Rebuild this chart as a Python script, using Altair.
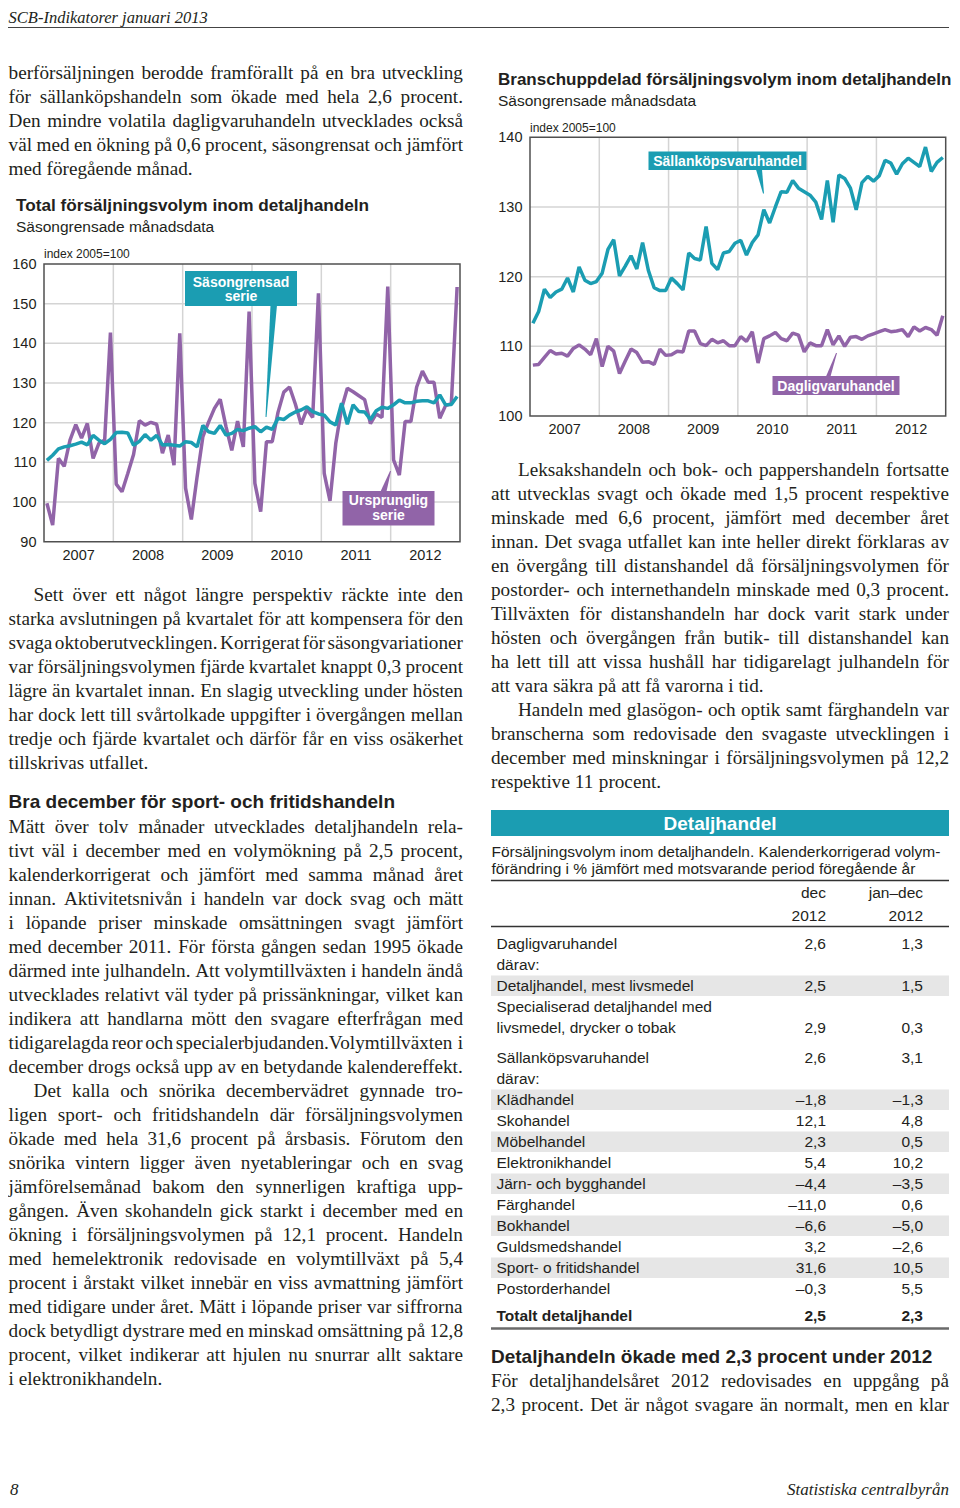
import altair as alt
import pandas as pd

OFF = 8
TEAL = "#1b9db2"
PURPLE = "#9164a8"
INK = "#231f20"
GRID = "#d4d4d4"
FRAME = "#505050"
SHADE = "#e6e6e6"
SANS = "Liberation Sans"
SERIF = "Liberation Serif"

# ---------------- data ----------------
years = ["2007", "2008", "2009", "2010", "2011", "2012"]

total_original = [
    99.7, 94.2, 111.0, 109.0, 115.6, 119.5, 116.1, 119.8, 111.0, 114.8, 115.6, 142.7,
    104.5, 102.6, 107.2, 112.0, 120.5, 119.4, 120.1, 119.6, 112.3, 116.9, 109.3, 142.5,
    103.5, 95.6, 106.4, 116.5, 120.2, 123.6, 125.9, 119.0, 113.0, 120.4, 113.9, 148.0,
    104.7, 97.6, 115.2, 115.2, 122.6, 127.7, 129.0, 124.7, 119.6, 123.4, 121.3, 152.6,
    107.2, 100.3, 114.8, 123.6, 128.7, 127.8, 126.8, 125.8, 119.8, 122.2, 121.3, 154.3,
    110.6, 106.8, 120.3, 120.3, 129.0, 133.0, 130.2, 130.2, 121.1, 124.3, 124.8, 154.2,
]
total_seasonal = [
    110.5, 111.8, 113.4, 113.9, 114.2, 114.6, 115.1, 114.4, 116.8, 115.6, 114.7, 115.8,
    117.5, 117.6, 117.4, 114.3, 115.3, 117.0, 115.6, 116.8, 114.4, 114.5, 114.3, 114.1,
    115.2, 115.0, 113.9, 119.3, 117.7, 117.3, 119.3, 116.9, 117.3, 118.3, 118.0, 118.6,
    119.0, 117.7, 118.9, 118.3, 121.1, 120.8, 121.9, 122.7, 123.2, 124.0, 122.8, 122.2,
    121.9, 120.2, 119.4, 124.9, 119.6, 124.5, 122.8, 122.7, 120.8, 123.0, 123.9, 123.6,
    124.5, 125.7, 125.0, 125.0, 125.4, 125.5, 125.5, 125.0, 127.0, 124.5, 124.6, 126.6,
]
sallankop = [
    113.3, 115.0, 118.2, 117.0, 117.8, 118.2, 119.8, 117.8, 121.4, 119.5, 119.0, 119.3,
    120.5, 123.9, 125.3, 120.1, 121.5, 123.0, 121.1, 124.9, 120.9, 118.4, 118.0, 118.0,
    119.8, 119.0, 118.1, 123.4, 122.6, 122.4, 127.2, 121.9, 121.0, 123.4, 123.6, 124.8,
    125.2, 123.1, 124.9, 126.0, 129.6, 127.7, 130.0, 132.2, 132.1, 133.8, 132.7, 132.2,
    131.7, 130.7, 128.2, 133.8, 127.8, 134.6, 134.1, 132.7, 129.6, 133.5, 134.4, 133.7,
    134.5, 136.7, 136.3, 134.7, 136.2, 137.0, 136.4, 135.8, 138.6, 135.1, 136.4, 137.1,
]
dagligvaru = [
    107.3, 107.4, 108.4, 109.4, 108.9, 109.0, 108.6, 109.7, 110.2, 109.6, 108.8, 111.1,
    107.1, 110.0, 109.3, 106.1, 107.9, 109.6, 109.1, 107.7, 107.8, 107.4, 109.6, 108.7,
    108.8, 109.3, 109.2, 112.2, 112.2, 110.4, 110.1, 111.0, 110.5, 110.8, 110.1, 110.1,
    111.4, 110.7, 112.1, 107.6, 111.1, 111.5, 112.0, 111.1, 110.8, 111.9, 111.6, 109.2,
    110.5, 110.1, 110.1, 112.4, 110.2, 111.5, 110.0, 111.3, 111.4, 111.0, 111.5, 111.8,
    112.1, 112.4, 112.1, 112.2, 112.4, 111.4, 112.8, 112.2, 112.7, 112.4, 111.6, 114.4,
]
ticks_total = [90, 100, 110, 120, 130, 140, 150, 160]
ticks_branch = [100, 110, 120, 130, 140]

title_total = "Total försäljningsvolym inom detaljhandeln"
title_branch = "Branschuppdelad försäljningsvolym inom detaljhandeln"
subtitle = "Säsongrensade månadsdata"
unit_text = "index 2005=100"
lab_sa = ["Säsongrensad", "serie"]
lab_orig = ["Ursprunglig", "serie"]
lab_sallan = "Sällanköpsvaruhandel"
lab_daglig = "Dagligvaruhandel"

page_header = "SCB-Indikatorer januari 2013"
page_no = "8"
publisher = "Statistiska centralbyrån"

left_p0 = [
    "berförsäljningen berodde framförallt på en bra utveckling",
    "för sällanköpshandeln som ökade med hela 2,6 procent.",
    "Den mindre volatila dagligvaruhandeln utvecklades också",
    "väl med en ökning på 0,6 procent, säsongrensat och jämfört",
    "med föregående månad.",
]
left_p1 = [
    "Sett över ett något längre perspektiv räckte inte den",
    "starka avslutningen på kvartalet för att kompensera för den",
    "svaga oktoberutvecklingen. Korrigerat för säsongvariationer",
    "var försäljningsvolymen fjärde kvartalet knappt 0,3 procent",
    "lägre än kvartalet innan. En slagig utveckling under hösten",
    "har dock lett till svårtolkade uppgifter i övergången mellan",
    "tredje och fjärde kvartalet och därför får en viss osäkerhet",
    "tillskrivas utfallet.",
]
heading_left = "Bra december för sport- och fritidshandeln"
left_p2 = [
    "Mätt över tolv månader utvecklades detaljhandeln rela-",
    "tivt väl i december med en volymökning på 2,5 procent,",
    "kalenderkorrigerat och jämfört med samma månad året",
    "innan. Aktivitetsnivån i handeln var dock svag och mätt",
    "i löpande priser minskade omsättningen svagt jämfört",
    "med december 2011. För första gången sedan 1995 ökade",
    "därmed inte julhandeln. Att volymtillväxten i handeln ändå",
    "utvecklades relativt väl tyder på prissänkningar, vilket kan",
    "indikera att handlarna mött den svagare efterfrågan med",
    "tidigarelagda reor och specialerbjudanden.Volymtillväxten i",
    "december drogs också upp av en betydande kalendereffekt.",
]
left_p3 = [
    "Det kalla och snörika decembervädret gynnade tro-",
    "ligen sport- och fritidshandeln där försäljningsvolymen",
    "ökade med hela 31,6 procent på årsbasis. Förutom den",
    "snörika vintern ligger även nyetableringar och en svag",
    "jämförelsemånad bakom den synnerligen kraftiga upp-",
    "gången. Även skohandeln gick starkt i december med en",
    "ökning i försäljningsvolymen på 12,1 procent. Handeln",
    "med hemelektronik redovisade en volymtillväxt på 5,4",
    "procent i årstakt vilket innebär en viss avmattning jämfört",
    "med tidigare under året. Mätt i löpande priser var siffrorna",
    "dock betydligt dystrare med en minskad omsättning på 12,8",
    "procent, vilket indikerar att hjulen nu snurrar allt saktare",
    "i elektronikhandeln.",
]
right_p1 = [
    "Leksakshandeln och bok- och pappershandeln fortsatte",
    "att utvecklas svagt och ökade med 1,5 procent respektive",
    "minskade med 6,6 procent, jämfört med december året",
    "innan. Det svaga utfallet kan inte heller direkt förklaras av",
    "en övergång till distanshandel då försäljningsvolymen för",
    "postorder- och internethandeln minskade med 0,3 procent.",
    "Tillväxten för distanshandeln har dock varit stark under",
    "hösten och övergången från butik- till distanshandel kan",
    "ha lett till att vissa hushåll har tidigarelagt julhandeln för",
    "att vara säkra på att få varorna i tid.",
]
right_p2 = [
    "Handeln med glasögon- och optik samt färghandeln var",
    "branscherna som redovisade den svagaste utvecklingen i",
    "december med minskningar i försäljningsvolymen på 12,2",
    "respektive 11 procent.",
]
heading_right = "Detaljhandeln ökade med 2,3 procent under 2012"
right_p3 = [
    "För detaljhandelsåret 2012 redovisades en uppgång på",
    "2,3 procent. Det är något svagare än normalt, men en klar",
]

table_title = "Detaljhandel"
table_caption = [
    "Försäljningsvolym inom detaljhandeln. Kalenderkorrigerad volym-",
    "förändring i % jämfört med motsvarande period föregående år",
]
table_head_dec = ["dec", "2012"]
table_head_jd = ["jan–dec", "2012"]
table_labels = [
    "Dagligvaruhandel", "därav:", "Detaljhandel, mest livsmedel",
    "Specialiserad detaljhandel med", "livsmedel, drycker o tobak",
    "Sällanköpsvaruhandel", "därav:", "Klädhandel", "Skohandel", "Möbelhandel",
    "Elektronikhandel", "Järn- och bygghandel", "Färghandel", "Bokhandel",
    "Guldsmedshandel", "Sport- o fritidshandel", "Postorderhandel", "Totalt detaljhandel",
]
table_dec = ["2,6", "", "2,5", "", "2,9", "2,6", "", "–1,8", "12,1", "2,3", "5,4",
             "–4,4", "–11,0", "–6,6", "3,2", "31,6", "–0,3", "2,5"]
table_jd = ["1,3", "", "1,5", "", "0,3", "3,1", "", "–1,3", "4,8", "0,5", "10,2",
            "–3,5", "0,6", "–5,0", "–2,6", "10,5", "5,5", "2,3"]
table_shaded = [2, 7, 9, 11, 13, 15]

# ---------------- helpers ----------------
TNR = {" ": 250, ",": 250, ".": 250, "-": 333, "–": 500, ":": 278, ";": 278,
       "0": 500, "1": 500, "2": 500, "3": 500, "4": 500, "5": 500, "6": 500,
       "7": 500, "8": 500, "9": 500, "%": 833,
       "a": 444, "b": 500, "c": 444, "d": 500, "e": 444, "f": 333, "g": 500,
       "h": 500, "i": 278, "j": 278, "k": 500, "l": 278, "m": 778, "n": 500,
       "o": 500, "p": 500, "q": 500, "r": 333, "s": 389, "t": 278, "u": 500,
       "v": 500, "w": 722, "x": 500, "y": 500, "z": 444, "å": 444, "ä": 444,
       "ö": 500, "é": 444,
       "A": 722, "B": 667, "C": 667, "D": 722, "E": 611, "F": 556, "G": 722,
       "H": 722, "I": 333, "J": 389, "K": 722, "L": 611, "M": 889, "N": 722,
       "O": 722, "P": 556, "Q": 722, "R": 667, "S": 556, "T": 611, "U": 722,
       "V": 722, "W": 944, "X": 722, "Y": 722, "Z": 611, "Å": 722, "Ä": 722,
       "Ö": 722}


def em(s):
    return sum(TNR.get(ch, 500) for ch in s) / 1000.0


LEFT = 8.6   # page x where the left column can start (the page margin is 8px)
# paragraphs: lines, left, right, first baseline, indent, continues
paras = [
    (left_p0, LEFT, 463, 79, 0, False),
    (left_p1, LEFT, 463, 601, 25, False),
    (left_p2, LEFT, 463, 833, 0, False),
    (left_p3, LEFT, 463, 1097, 25, False),
    (right_p1, 491, 949, 476, 27, False),
    (right_p2, 491, 949, 716, 27, False),
    (right_p3, 491, 949, 1387, 0, True),
]

need = []
for lines, lft, rgt, b0, ind, cont in paras:
    for k, line in enumerate(lines):
        if k == len(lines) - 1 and not cont:
            continue
        words = line.split(" ")
        avail = rgt - lft - (ind if k == 0 else 0)
        need.append(avail / (sum(em(w) for w in words) + 0.13 * (len(words) - 1)))
FS = min(19.6, min(need))

word_rows = []
for lines, lft, rgt, b0, ind, cont in paras:
    for k, line in enumerate(lines):
        y = b0 + 24 * k
        x0 = lft + (ind if k == 0 else 0)
        words = line.split(" ")
        ws = [em(w) * FS for w in words]
        last = (k == len(lines) - 1) and not cont
        if last or len(words) == 1:
            gap = 0.25 * FS
        else:
            gap = (rgt - x0 - sum(ws)) / (len(words) - 1)
        x = x0
        for w, wd in zip(words, ws):
            word_rows.append(dict(t=w, x=x - OFF, y=y - OFF, s=FS, c=INK))
            x += wd + gap


def text_layer(rows, font, weight="normal", style="normal", align="left", baseline="alphabetic"):
    df = pd.DataFrame(rows)
    return alt.Chart(df).mark_text(font=font, fontWeight=weight, fontStyle=style,
                                   align=align, baseline=baseline).encode(
        x=alt.X("x:Q", scale=None, axis=None),
        y=alt.Y("y:Q", scale=None, axis=None),
        text="t:N",
        size=alt.Size("s:Q", scale=None, legend=None),
        color=alt.Color("c:N", scale=None, legend=None),
    )


def T(t, x, y, s, c=INK):
    return dict(t=t, x=x - OFF, y=y - OFF, s=s, c=c)


def series_df(vals):
    return pd.DataFrame({"m": [i + 0.5 for i in range(len(vals))], "v": vals})


def panel(series, x0, x1, ytop, ybot, lo, hi, ticks, lab_right, year_base):
    xs = alt.Scale(domain=[0, 72], range=[x0 - OFF, x1 - OFF], nice=False, zero=False)
    ys = alt.Scale(domain=[lo, hi], range=[ybot - OFF, ytop - OFF], nice=False, zero=False)
    L = []
    gv = pd.DataFrame({"m": [12 * k for k in range(1, 6)]})
    L.append(alt.Chart(gv).mark_rule(color=GRID, strokeWidth=1.5).encode(
        x=alt.X("m:Q", scale=xs, axis=None), y=alt.value(ytop - OFF), y2=alt.value(ybot - OFF)))
    gh = pd.DataFrame({"v": ticks[1:-1]})
    L.append(alt.Chart(gh).mark_rule(color=GRID, strokeWidth=1.5).encode(
        y=alt.Y("v:Q", scale=ys, axis=None), x=alt.value(x0 - OFF), x2=alt.value(x1 - OFF)))
    fr = pd.DataFrame({"a": [0], "b": [72], "lo": [lo], "hi": [hi]})
    L.append(alt.Chart(fr).mark_rect(fillOpacity=0, stroke=FRAME, strokeWidth=1.5).encode(
        x=alt.X("a:Q", scale=xs, axis=None), x2="b:Q",
        y=alt.Y("lo:Q", scale=ys, axis=None), y2="hi:Q"))
    for vals, col in series:
        L.append(alt.Chart(series_df(vals)).mark_line(
            color=col, strokeWidth=3.5, strokeJoin="bevel").encode(
            x=alt.X("m:Q", scale=xs, axis=None), y=alt.Y("v:Q", scale=ys, axis=None)))
    tl = pd.DataFrame({"v": ticks, "t": [str(t) for t in ticks]})
    L.append(alt.Chart(tl).mark_text(align="right", baseline="middle", font=SANS,
                                     fontSize=14.5, color=INK, dy=1).encode(
        y=alt.Y("v:Q", scale=ys, axis=None), x=alt.value(lab_right - OFF), text="t:N"))
    yl = pd.DataFrame({"m": [12 * k + 6 for k in range(6)], "t": years})
    L.append(alt.Chart(yl).mark_text(align="center", baseline="alphabetic", font=SANS,
                                     fontSize=14.5, color=INK).encode(
        x=alt.X("m:Q", scale=xs, axis=None), y=alt.value(year_base - OFF), text="t:N"))
    return L


# ---------------- background rects ----------------
row_base = [949 + 21 * i + (9 if i >= 5 else 0) + (6 if i >= 17 else 0)
            for i in range(len(table_labels))]
rect_rows = [dict(x=491 - OFF, x2=949 - OFF, y=810 - OFF, y2=836 - OFF, c=TEAL)]
for i in table_shaded:
    rect_rows.append(dict(x=491 - OFF, x2=949 - OFF, y=row_base[i] - 15.5 - OFF,
                          y2=row_base[i] + 5 - OFF, c=SHADE))


def rect_layer(rows):
    return alt.Chart(pd.DataFrame(rows)).mark_rect().encode(
        x=alt.X("x:Q", scale=None, axis=None), x2="x2:Q",
        y=alt.Y("y:Q", scale=None, axis=None), y2="y2:Q",
        color=alt.Color("c:N", scale=None, legend=None))


box_rows = [
    dict(x=185 - OFF, x2=297 - OFF, y=271 - OFF, y2=306 - OFF, c=TEAL),
    dict(x=342.5 - OFF, x2=434.5 - OFF, y=491 - OFF, y2=525.5 - OFF, c=PURPLE),
    dict(x=648.5 - OFF, x2=806.5 - OFF, y=151.5 - OFF, y2=170 - OFF, c=TEAL),
    dict(x=772.5 - OFF, x2=899.5 - OFF, y=376 - OFF, y2=395 - OFF, c=PURPLE),
]
ptr_rows = []
for pid, (ya, xla, xra, yb, xlb, xrb, col) in enumerate([
        (305, 270.5, 277.0, 417, 265.5, 266.5, TEAL),
        (471, 390.0, 391.0, 491.5, 380.5, 386.5, PURPLE),
        (169.5, 756.0, 762.0, 193.5, 763.0, 764.0, TEAL),
        (353, 836.0, 837.0, 376.5, 826.0, 830.5, PURPLE)]):
    ptr_rows.append(dict(id=pid, y=ya - OFF, xl=xla - OFF, xr=xra - OFF, c=col))
    ptr_rows.append(dict(id=pid, y=yb - OFF, xl=xlb - OFF, xr=xrb - OFF, c=col))
ptr_layer = alt.Chart(pd.DataFrame(ptr_rows)).mark_area(orient="horizontal").encode(
    y=alt.Y("y:Q", scale=None, axis=None),
    x=alt.X("xl:Q", scale=None, axis=None), x2="xr:Q",
    detail="id:N",
    color=alt.Color("c:N", scale=None, legend=None))

rule_rows = [
    dict(x=0, x2=949 - OFF, y=27.5 - OFF, w=1.2, c="#444444"),
    dict(x=491 - OFF, x2=949 - OFF, y=880.5 - OFF, w=1.5, c="#333333"),
    dict(x=491 - OFF, x2=949 - OFF, y=926.5 - OFF, w=1.5, c="#333333"),
    dict(x=491 - OFF, x2=949 - OFF, y=1328.5 - OFF, w=2.5, c="#6a6a6a"),
]
rule_layer = alt.Chart(pd.DataFrame(rule_rows)).mark_rule().encode(
    x=alt.X("x:Q", scale=None, axis=None), x2="x2:Q",
    y=alt.Y("y:Q", scale=None, axis=None),
    strokeWidth=alt.StrokeWidth("w:Q", scale=None, legend=None),
    color=alt.Color("c:N", scale=None, legend=None))

# ---------------- sans text ----------------
TBL = 15.5
sans_left_regular = [
    T(subtitle, 16, 232, 15.5), T(unit_text, 44, 258, 12),
    T(subtitle, 498, 105.5, 15.5), T(unit_text, 530, 131.5, 12),
    T(table_caption[0], 491.5, 857, TBL), T(table_caption[1], 491.5, 874, TBL),
]
sans_left_bold = [
    T(title_total, 16, 211, 17.2), T(title_branch, 498, 85, 17),
    T(heading_left, LEFT, 808, 19), T(heading_right, 491, 1363, 19),
]
sans_center_bold = [
    T(lab_sa[0], 241, 286.5, 14, "white"), T(lab_sa[1], 241, 301, 14, "white"),
    T(lab_orig[0], 388.5, 505, 14, "white"), T(lab_orig[1], 388.5, 520, 14, "white"),
    T(lab_sallan, 727.5, 165.5, 14, "white"), T(lab_daglig, 836, 390.5, 14, "white"),
    T(table_title, 720, 829.5, 19, "white"),
]
sans_right_regular = [
    T(table_head_dec[0], 826, 898, TBL), T(table_head_dec[1], 826, 920.5, TBL),
    T(table_head_jd[0], 923, 898, TBL), T(table_head_jd[1], 923, 920.5, TBL),
]
sans_right_bold = []
for i, lab in enumerate(table_labels):
    bold = lab.startswith("Totalt")
    (sans_left_bold if bold else sans_left_regular).append(T(lab, 496.5, row_base[i], TBL))
    for val, xr in ((table_dec[i], 826), (table_jd[i], 923)):
        if val:
            (sans_right_bold if bold else sans_right_regular).append(T(val, xr, row_base[i], TBL))

serif_italic_left = [T(page_header, LEFT, 22.5, 16.5), T(page_no, 10, 1494.5, 17)]
serif_italic_right = [T(publisher, 949, 1494.5, 17)]

# ---------------- assemble ----------------
layers = [rect_layer(rect_rows)]
layers += panel([(total_original, PURPLE), (total_seasonal, TEAL)],
                44, 460, 264, 541.7, 90, 160, ticks_total, 36.5, 560)
layers += panel([(sallankop, TEAL), (dagligvaru, PURPLE)],
                530, 945.7, 137.3, 416, 100, 140, ticks_branch, 522.5, 433.5)
layers += [rect_layer(box_rows), ptr_layer, rule_layer]
layers += [
    text_layer(word_rows, SERIF),
    text_layer(serif_italic_left, SERIF, style="italic"),
    text_layer(serif_italic_right, SERIF, style="italic", align="right"),
    text_layer(sans_left_regular, SANS),
    text_layer(sans_left_bold, SANS, weight="bold"),
    text_layer(sans_center_bold, SANS, weight="bold", align="center"),
    text_layer(sans_right_regular, SANS, align="right"),
    text_layer(sans_right_bold, SANS, weight="bold", align="right"),
]

chart = alt.layer(*layers).resolve_scale(
    x="independent", y="independent", color="independent", size="independent",
    strokeWidth="independent"
).properties(
    width=944, height=1491, padding=0, background="white",
    autosize=alt.AutoSizeParams(type="none")
).configure_view(stroke=None)

chart.save("out.html", embed_options={"renderer": "svg", "actions": False})
